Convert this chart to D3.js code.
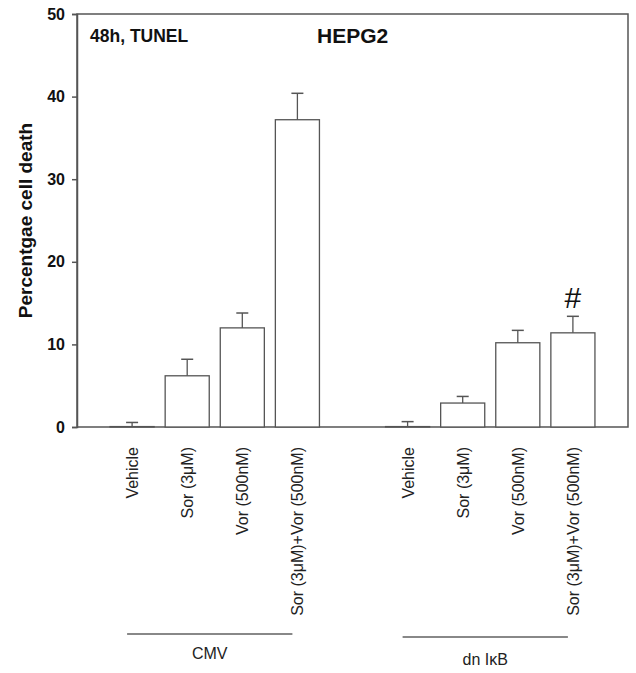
<!DOCTYPE html>
<html>
<head>
<meta charset="utf-8">
<script src="https://cdn.jsdelivr.net/npm/d3@7"></script>
<style>
  body { margin: 0; background: #fff; }
  svg { font-family: "Liberation Sans", Arial, sans-serif; }
</style>
</head>
<body>
<div id="chart"></div>
<script>
const treatments = ['Vehicle', 'Sor (3\u03bcM)', 'Vor (500nM)', 'Sor (3\u03bcM)+Vor (500nM)'];
const groups = ['CMV', 'dn I\u03baB'];
const cmvMeans = [0.05, 6.2, 12.0, 37.2];
const cmvErrors = [0.5, 2.0, 1.8, 3.2];
const dnMeans = [0.05, 2.9, 10.2, 11.4];
const dnErrors = [0.6, 0.8, 1.5, 2.0];
const yTicks = [0, 10, 20, 30, 40, 50];

const width = 636, height = 673;
const margin = { top: 14, right: 8, bottom: 246, left: 77 };

const rows = [];
groups.forEach((g, gi) => {
  const means = gi === 0 ? cmvMeans : dnMeans;
  const errs = gi === 0 ? cmvErrors : dnErrors;
  treatments.forEach((t, i) => rows.push({ key: g + '|' + t, group: g, label: t, value: means[i], err: errs[i] }));
});
const slots = rows.slice(0, 4).map(d => d.key).concat(['gap'], rows.slice(4).map(d => d.key));

const svg = d3.select('#chart').append('svg')
  .attr('width', width)
  .attr('height', height);

const x = d3.scaleBand()
  .domain(slots)
  .range([margin.left, width - margin.right])
  .paddingInner(0.2)
  .paddingOuter(0.6);

const y = d3.scaleLinear()
  .domain([0, 50])
  .range([height - margin.bottom, margin.top]);

// frame
svg.append('rect')
  .attr('x', margin.left)
  .attr('y', y(50))
  .attr('width', width - margin.right - margin.left)
  .attr('height', y(0) - y(50))
  .attr('fill', 'none')
  .attr('stroke', '#555')
  .attr('stroke-width', 1.5);

const yAxis = svg.append('g')
  .attr('transform', `translate(${margin.left},0)`)
  .call(d3.axisLeft(y).tickValues(yTicks).tickSize(5).tickPadding(7));
yAxis.select('.domain').attr('stroke', '#555').attr('stroke-width', 1.5);
yAxis.selectAll('.tick line').attr('stroke', '#555').attr('stroke-width', 1.5);
yAxis.selectAll('.tick text')
  .attr('font-size', 16)
  .attr('font-weight', 'bold')
  .attr('fill', '#111')
  .style('font-family', '"Liberation Sans", Arial, sans-serif');

svg.append('text')
  .attr('transform', `translate(32,${(y(0) + y(50)) / 2}) rotate(-90)`)
  .attr('text-anchor', 'middle')
  .attr('font-size', 19)
  .attr('font-weight', 'bold')
  .attr('fill', '#111')
  .text('Percentgae cell death');

// bars
const bars = svg.append('g').selectAll('g')
  .data(rows)
  .enter().append('g');

bars.append('rect')
  .attr('x', d => x(d.key))
  .attr('y', d => y(d.value))
  .attr('width', x.bandwidth())
  .attr('height', d => y(0) - y(d.value))
  .attr('fill', '#fff')
  .attr('stroke', '#555')
  .attr('stroke-width', 1.3);

bars.append('line')
  .attr('x1', d => x(d.key) + x.bandwidth() / 2)
  .attr('x2', d => x(d.key) + x.bandwidth() / 2)
  .attr('y1', d => y(d.value))
  .attr('y2', d => y(d.value + d.err))
  .attr('stroke', '#555')
  .attr('stroke-width', 1.3);

bars.append('line')
  .attr('x1', d => x(d.key) + x.bandwidth() / 2 - 6)
  .attr('x2', d => x(d.key) + x.bandwidth() / 2 + 6)
  .attr('y1', d => y(d.value + d.err))
  .attr('y2', d => y(d.value + d.err))
  .attr('stroke', '#555')
  .attr('stroke-width', 1.5);

// category labels
bars.append('text')
  .attr('transform', d => `translate(${x(d.key) + x.bandwidth() / 2 + 6},${y(0) + 20}) rotate(-90)`)
  .attr('text-anchor', 'end')
  .attr('font-size', 16)
  .attr('fill', '#222')
  .text(d => d.label);

// significance mark
const last = rows[rows.length - 1];
svg.append('text')
  .attr('x', x(last.key) + x.bandwidth() / 2)
  .attr('y', y(last.value + last.err) - 8)
  .attr('text-anchor', 'middle')
  .attr('font-size', 30)
  .attr('fill', '#111')
  .text('#');

// group brackets
const bracketY = [634, 637];
const labelY = [659, 665];
groups.forEach((g, gi) => {
  const keys = rows.filter(d => d.group === g).map(d => d.key);
  const x0 = x(keys[0]) + x.bandwidth() / 2 - 5;
  const x1 = x(keys[keys.length - 1]) + x.bandwidth() / 2 - 5;
  svg.append('line')
    .attr('x1', x0).attr('x2', x1)
    .attr('y1', bracketY[gi]).attr('y2', bracketY[gi])
    .attr('stroke', '#888')
    .attr('stroke-width', 2);
  svg.append('text')
    .attr('x', (x0 + x1) / 2)
    .attr('y', labelY[gi])
    .attr('text-anchor', 'middle')
    .attr('font-size', 16)
    .attr('fill', '#222')
    .text(g);
});

// titles
svg.append('text')
  .attr('x', 90).attr('y', 42)
  .attr('font-size', 17.5)
  .attr('font-weight', 'bold')
  .attr('fill', '#111')
  .text('48h, TUNEL');

svg.append('text')
  .attr('x', 317).attr('y', 43)
  .attr('font-size', 21)
  .attr('font-weight', 'bold')
  .attr('fill', '#111')
  .text('HEPG2');
</script>
</body>
</html>
